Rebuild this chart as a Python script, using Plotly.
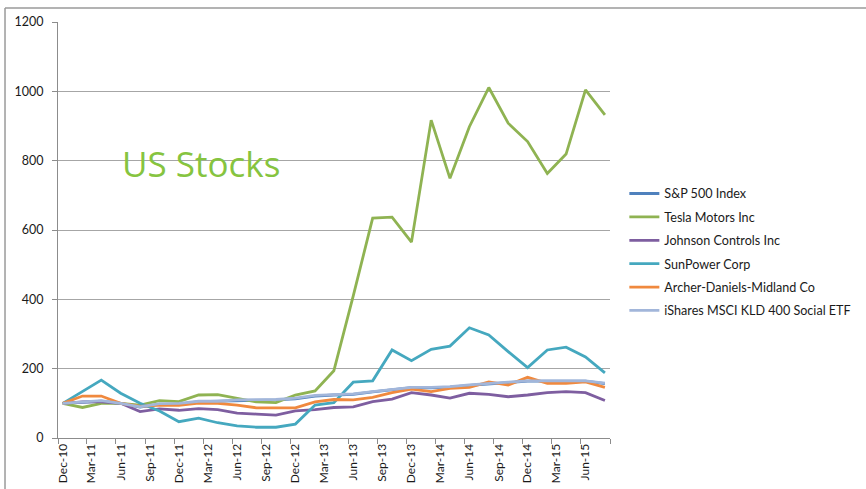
import plotly.graph_objects as go
import pandas as pd

# bi-monthly observation dates (Dec-10 .. Aug-15)
dates = pd.date_range("2010-12-01", "2015-08-01", freq="2MS") + pd.Timedelta(days=15)

sp500 = [100, 104, 106, 100, 89, 97, 98, 105, 106, 109, 110, 110, 113, 121, 124,
         126, 133, 139, 145, 145, 147, 152, 157, 160, 164, 164, 165, 164, 157]
tesla = [100, 88, 100, 100, 95, 108, 105, 124, 125, 114, 104, 102, 124, 136, 194,
         410, 634, 637, 565, 917, 749, 898, 1011, 908, 855, 763, 819, 1004, 932]
johnson = [100, 104, 104, 100, 76, 84, 80, 85, 82, 72, 69, 66, 78, 82, 88,
           90, 105, 112, 131, 124, 115, 129, 126, 119, 124, 131, 134, 131, 108]
sunpower = [100, 135, 167, 129, 100, 78, 47, 57, 44, 35, 31, 31, 40, 95, 102,
            161, 165, 254, 223, 256, 265, 318, 297, 249, 203, 254, 262, 234, 188]
adm = [100, 121, 121, 100, 91, 95, 94, 101, 100, 95, 87, 87, 87, 104, 111,
       110, 117, 131, 141, 134, 143, 146, 162, 153, 175, 158, 158, 162, 146]
ishares = [100, 105, 108, 100, 90, 99, 100, 106, 106, 110, 111, 111, 115, 123, 125,
           127, 134, 140, 146, 146, 148, 153, 158, 161, 165, 165, 166, 165, 158]

series_names = ["S&P 500 Index", "Tesla Motors Inc", "Johnson Controls Inc",
                "SunPower Corp", "Archer-Daniels-Midland Co", "iShares MSCI KLD 400 Social ETF"]
series_values = [sp500, tesla, johnson, sunpower, adm, ishares]
colors = ["#4F81BD", "#8FB352", "#7E5EA0", "#45A8BF", "#F0893E", "#A2B6DA"]

# tick labels every 3 months (Dec-10 .. Jun-15)
label_months = pd.date_range("2010-12-01", "2015-06-01", freq="3MS")
tick_labels = [d.strftime("%b-%y") for d in label_months]
label_pos = label_months + pd.Timedelta(days=15)
boundary_ticks = pd.date_range("2010-12-01", "2015-09-01", freq="3MS")

fig = go.Figure()
for i, (name, vals, col) in enumerate(zip(series_names, series_values, colors)):
    fig.add_trace(go.Scatter(x=dates, y=vals, mode="lines", name=name,
                             legendgroup=str(i),
                             line=dict(color=col, width=2.8)))

fig.update_layout(
    width=866, height=489,
    margin=dict(l=58, r=256, t=22, b=51, autoexpand=False),
    plot_bgcolor="white", paper_bgcolor="white",
    font=dict(family="Lato", size=12, color="#1a1a1a"),
    legend=dict(x=1.026, y=0.623, xanchor="left", yanchor="top",
                font=dict(family="Lato", size=12.6, color="#1a1a1a"),
                tracegroupgap=4, bgcolor="rgba(0,0,0,0)"),
    annotations=[dict(text="US Stocks", xref="paper", yref="paper",
                      x=0.259, y=0.659, xanchor="center", yanchor="middle",
                      showarrow=False,
                      font=dict(family="Open Sans", size=35, color="#86C440"))],
    shapes=[
        dict(type="line", xref="paper", yref="paper", x0=-0.096, x1=1.6,
             y0=1.0337, y1=1.0337, line=dict(color="#9a9a9a", width=1.5)),
        dict(type="line", xref="paper", yref="paper", x0=-0.096, x1=-0.096,
             y0=1.0337, y1=-0.3, line=dict(color="#9a9a9a", width=1.5)),
    ],
)

fig.update_xaxes(
    automargin=False,
    range=["2010-12-01", "2015-09-01"],
    tickmode="array", tickvals=label_pos, ticktext=tick_labels,
    tickangle=-90, ticks="", showgrid=False,
    showline=True, linecolor="#8c8c8c", linewidth=1,
    tickfont=dict(family="Lato", size=12, color="#1a1a1a"),
    minor=dict(tickmode="array", tickvals=boundary_ticks, ticks="outside",
               ticklen=5, tickcolor="#8c8c8c", showgrid=False),
)
fig.update_yaxes(
    automargin=False,
    range=[0, 1200], tickmode="linear", tick0=0, dtick=200,
    showgrid=True, gridcolor="#a6a6a6", gridwidth=1,
    showline=True, linecolor="#8c8c8c", linewidth=1,
    ticks="outside", ticklen=5, tickcolor="#8c8c8c",
    ticklabelstandoff=6,
    zeroline=False,
    tickfont=dict(family="Lato", size=12.5, color="#1a1a1a"),
)

fig.write_html("out.html", config={"displayModeBar": False},
               post_script="document.body.style.margin='0px';document.body.style.overflow='hidden';")
